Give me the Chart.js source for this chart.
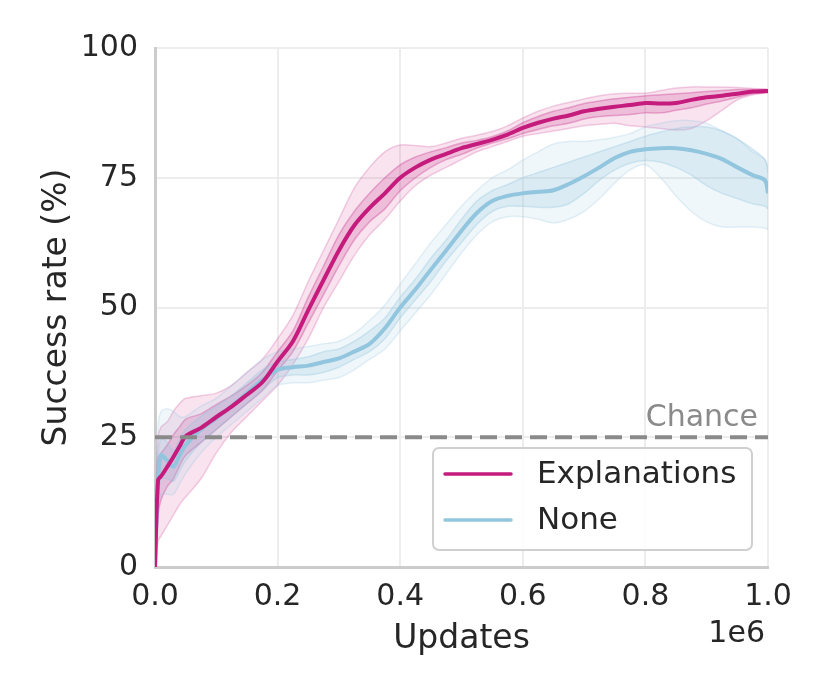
<!DOCTYPE html>
<html>
<head>
<meta charset="utf-8">
<script src="https://cdn.jsdelivr.net/npm/chart.js@4/dist/chart.umd.min.js"></script>
<style>
  html, body { margin: 0; padding: 0; background: #fff; }
  #wrap { width: 830px; height: 692px; }
</style>
</head>
<body>
<div id="wrap"><canvas id="chart" width="830" height="692"></canvas></div>
<script>
var updates = [0, 5000, 10000, 20000, 30000, 40000, 50000, 75000, 100000, 125000, 150000, 175000,
    200000, 225000, 250000, 275000, 300000, 325000, 350000, 375000, 400000, 425000, 450000, 475000,
    500000, 525000, 550000, 575000, 600000, 625000, 650000, 675000, 700000, 725000, 750000, 775000,
    800000, 825000, 850000, 875000, 900000, 925000, 950000, 975000, 995000, 1000000];

var explMean = [0, 16.8, 17.5, 19.3, 21.2, 23.2, 25.2, 26.8, 28.9, 30.9, 33.2, 35.6,
    39.6, 43.5, 49.5, 55.3, 61, 65.8, 69.2, 72, 75, 77, 78.5, 79.6,
    80.7, 81.5, 82.3, 83.3, 84.6, 85.6, 86.4, 87, 87.8, 88.3, 88.7, 89,
    89.4, 89.3, 89.4, 90, 90.5, 90.8, 91.2, 91.6, 91.7, 91.7];
var explInnerLo = [0, 10, 13, 15.5, 17, 19.5, 21.5, 24, 26.5, 29, 31.5, 34,
    37.8, 41.5, 47, 52.5, 58, 63, 66.5, 69, 72.5, 75, 77, 78.5,
    79.5, 80.7, 81.7, 82.5, 83.5, 84.3, 85, 85.5, 86.3, 86.8, 87, 87.2,
    87.5, 87.5, 88, 88.5, 89.2, 89.8, 90.5, 91.2, 91.4, 91.5];
var explInnerHi = [3, 21, 22, 23.5, 25.5, 27, 28.5, 29.5, 31.3, 33, 35, 37.5,
    41.5, 45.5, 52, 58, 64, 68.5, 72, 75, 77.5, 79, 80, 80.8,
    81.7, 82.2, 82.9, 84, 85.6, 86.8, 87.8, 88.5, 89.3, 89.8, 90.2, 90.5,
    90.8, 91, 91.2, 91.4, 91.6, 91.8, 92, 92, 92, 91.9];
var explOuterLo = [0, 5, 6, 8, 10, 12, 13.5, 17, 22, 26, 29, 32,
    35, 39, 44, 50, 55, 60, 64, 67, 70.5, 73.5, 75.5, 77,
    78.5, 80, 81, 82, 83, 83.5, 84, 84.5, 85, 85.3, 85.5, 85,
    84.8, 84.5, 84.2, 84.5, 86, 88, 90, 91, 91.3, 91.3];
var explOuterHi = [6, 25, 27, 28, 30, 31.5, 32.5, 33, 33.5, 35, 37.5, 40,
    44, 48.5, 55, 61, 67, 73, 77, 80, 81.3, 81.2, 81, 81.7,
    82.6, 83.2, 83.9, 85, 86.5, 87.8, 88.8, 89.5, 90.2, 90.8, 91.2, 91.3,
    91.3, 91.8, 92.3, 92.5, 92.5, 92.5, 92.4, 92.2, 92.1, 92];

var noneMean = [0, 16.8, 21.5, 20.5, 19.3, 21.5, 23.5, 26.5, 28.7, 31, 33.5, 36,
    38, 38.5, 38.8, 39.5, 40.2, 41.5, 43, 46, 50, 53.5, 57.3, 61,
    64.8, 68.2, 70.5, 71.5, 72, 72.3, 72.6, 73.8, 75.3, 77, 78.8, 80,
    80.5, 80.7, 80.7, 80.3, 79.6, 78.6, 77, 75.5, 74.5, 72];
var noneInnerLo = [0, 13, 17, 17, 16.5, 18.5, 20.5, 24, 26.5, 29, 31.5, 34,
    36.5, 37, 37, 37.5, 38.5, 40, 41.5, 44, 48, 51.5, 55, 59,
    62.5, 66, 68.5, 69.5, 69.5, 69.3, 69.3, 70, 72, 74.5, 76.5, 77.8,
    78.3, 78, 77, 75.5, 73.5, 72, 71, 70, 69.5, 69];
var noneInnerHi = [3, 21, 25, 24, 22.5, 24.5, 26.5, 29, 31, 33, 35.5, 38,
    39.5, 40, 40.5, 41.5, 42, 43.5, 45.5, 48, 52, 55.5, 59.5, 63,
    67, 70.5, 72.5, 73.7, 75, 76, 77, 78, 79, 80, 81, 82,
    83, 83.8, 84.5, 84.8, 84.8, 84, 82.5, 80.5, 78.5, 76];
var noneOuterLo = [0, 10, 14, 14, 14, 16, 18, 22, 25, 27.5, 30, 32.5,
    35, 35.5, 35.5, 36, 36.5, 38, 40, 42, 45.5, 49, 52.5, 56.5,
    60.5, 64, 66.5, 67.5, 67.5, 67, 66.3, 67, 68.5, 71, 74, 76.5,
    77.5, 75, 71.5, 68.5, 66.5, 65.5, 65.5, 65.5, 65.3, 65];
var noneOuterHi = [5, 27, 30, 30.5, 30, 29, 29, 31, 32.5, 35, 37.5, 40,
    41.5, 42, 42.5, 43, 43.5, 45, 47.5, 50.5, 54.5, 58.5, 62.5, 66,
    69.5, 72.5, 75, 76.5, 78.4, 80, 81.5, 82, 82, 82.3, 82.8, 83.5,
    84.8, 85.5, 86, 86, 85.5, 84, 82.5, 80, 78.5, 77];

var chanceLevel = 25;
var yTicks = [0, 25, 50, 75, 100];
var seriesNames = ['Explanations', 'None'];

var PINK = '#c51b7d';
var BLUE = '#92c5de';
var FONT = "'DejaVu Sans', sans-serif";
var TEXT = '#262626';

function pts(ys) {
    return ys.map(function (y, i) { return { x: updates[i], y: y }; });
}

function band(ys, color, fill, bg, order) {
    return {
        data: pts(ys),
        borderColor: color,
        borderWidth: 1.5,
        backgroundColor: bg,
        fill: fill,
        pointRadius: 0,
        tension: 0.3,
        order: order
    };
}

var overlay = {
    id: 'overlay',
    afterDraw: function (chart) {
        var ctx = chart.ctx;
        var area = chart.chartArea;
        var yPix = chart.scales.y.getPixelForValue(chanceLevel);

        ctx.save();
        ctx.font = '30px ' + FONT;
        ctx.fillStyle = '#8a8a8a';
        ctx.textAlign = 'right';
        ctx.textBaseline = 'alphabetic';
        ctx.fillText('Chance', area.right - 10, yPix - 11);

        ctx.fillStyle = TEXT;
        ctx.fillText('1e6', area.right - 3, 642);

        // legend box
        var bx = area.left + 278, by = area.bottom - 119, bw = 319, bh = 102;
        ctx.beginPath();
        ctx.roundRect(bx, by, bw, bh, 6);
        ctx.fillStyle = 'rgba(255,255,255,0.85)';
        ctx.fill();
        ctx.lineWidth = 2;
        ctx.strokeStyle = '#d0d0d0';
        ctx.stroke();

        var colors = [PINK, BLUE];
        ctx.font = '31px ' + FONT;
        ctx.textAlign = 'left';
        ctx.textBaseline = 'middle';
        for (var i = 0; i < seriesNames.length; i++) {
            var ly = by + 26 + i * 46;
            ctx.beginPath();
            ctx.moveTo(bx + 12, ly);
            ctx.lineTo(bx + 78, ly);
            ctx.lineWidth = 3.5;
            ctx.lineCap = 'round';
            ctx.strokeStyle = colors[i];
            ctx.stroke();
            ctx.fillStyle = TEXT;
            ctx.fillText(seriesNames[i], bx + 104, ly + 1);
        }
        ctx.restore();
    }
};

var datasets = [
    {   // 0 chance line
        data: [{ x: updates[0], y: chanceLevel }, { x: updates[updates.length - 1], y: chanceLevel }],
        borderColor: '#8a8a8a', borderWidth: 4, borderDash: [17, 8],
        pointRadius: 0, fill: false, order: 0
    },
    {   // 1
        label: seriesNames[0], data: pts(explMean), borderColor: PINK, borderWidth: 4,
        pointRadius: 0, fill: false, tension: 0.3, order: 1
    },
    {   // 2
        label: seriesNames[1], data: pts(noneMean), borderColor: BLUE, borderWidth: 4,
        pointRadius: 0, fill: false, tension: 0.3, order: 2
    },
    band(noneInnerLo, 'rgba(146,197,222,0.35)', false, 'transparent', 3),             // 3
    band(noneInnerHi, 'rgba(146,197,222,0.35)', 3, 'rgba(146,197,222,0.22)', 3),      // 4
    band(noneOuterLo, 'rgba(146,197,222,0.25)', false, 'transparent', 4),             // 5
    band(noneOuterHi, 'rgba(146,197,222,0.25)', 5, 'rgba(146,197,222,0.14)', 4),      // 6
    band(explInnerLo, 'rgba(197,27,125,0.3)', false, 'transparent', 5),               // 7
    band(explInnerHi, 'rgba(197,27,125,0.3)', 7, 'rgba(197,27,125,0.19)', 5),         // 8
    band(explOuterLo, 'rgba(197,27,125,0.2)', false, 'transparent', 6),               // 9
    band(explOuterHi, 'rgba(197,27,125,0.2)', 9, 'rgba(197,27,125,0.12)', 6)          // 10
];

new Chart(document.getElementById('chart').getContext('2d'), {
    type: 'line',
    data: { datasets: datasets },
    options: {
        responsive: false,
        animation: false,
        layout: { padding: { top: 48, right: 62, left: 0, bottom: 0 } },
        plugins: {
            legend: { display: false },
            tooltip: { enabled: false }
        },
        scales: {
            x: {
                type: 'linear',
                min: 0,
                max: 1000000,
                afterFit: function (s) { s.height = 125; },
                grid: { color: '#ededed', lineWidth: 2, drawTicks: false },
                border: { display: true, color: '#cccccc', width: 3 },
                ticks: {
                    stepSize: 200000,
                    padding: 12,
                    color: TEXT,
                    font: { family: FONT, size: 30 },
                    maxRotation: 0,
                    callback: function (v) { return (v / 1e6).toFixed(1); }
                },
                title: {
                    display: true, text: 'Updates', color: TEXT,
                    font: { family: FONT, size: 33 },
                    padding: { top: 0, bottom: 33 }
                }
            },
            y: {
                min: 0,
                max: 100,
                afterFit: function (s) { s.width = 155; },
                afterBuildTicks: function (s) { s.ticks = yTicks.map(function (v) { return { value: v }; }); },
                grid: { color: '#ededed', lineWidth: 2, drawTicks: false },
                border: { display: true, color: '#cccccc', width: 3 },
                ticks: {
                    padding: 17,
                    color: TEXT,
                    font: { family: FONT, size: 30 }
                },
                title: {
                    display: true, text: 'Success rate (%)', color: TEXT,
                    font: { family: FONT, size: 33 },
                    padding: { top: 38, bottom: 0 }
                }
            }
        }
    },
    plugins: [overlay]
});
</script>
</body>
</html>
